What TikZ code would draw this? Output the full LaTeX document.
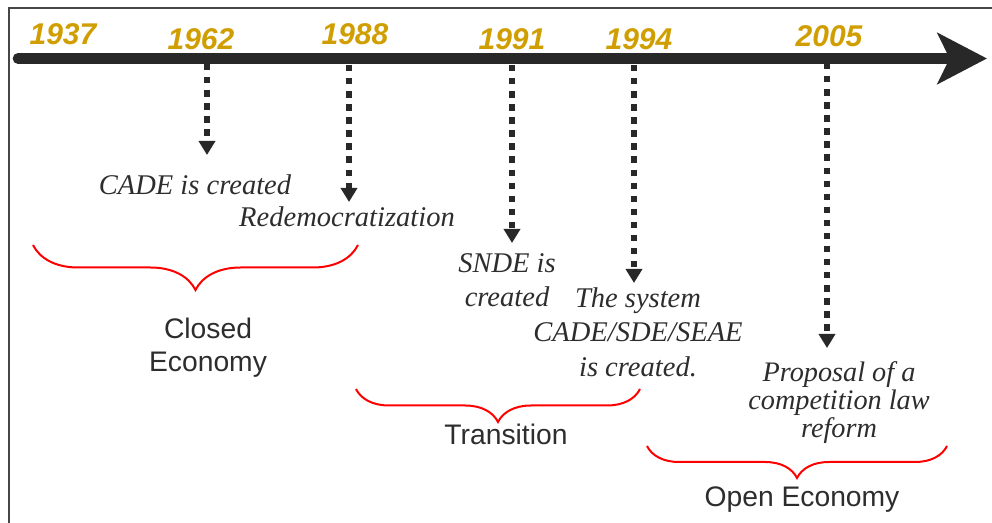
\documentclass[tikz,border=0pt]{standalone}
\usepackage{fontspec}
\setmainfont{Liberation Serif}
\setsansfont{Liberation Sans}
\usepackage{xcolor}
\usepackage{tikz}
\usetikzlibrary{arrows.meta,decorations.pathreplacing}

\definecolor{yeargold}{RGB}{208,158,0}
\definecolor{textgray}{RGB}{45,45,45}
\definecolor{bargray}{RGB}{40,40,40}
\definecolor{framegray}{RGB}{70,70,70}

\newcommand{\yearfont}{\sffamily\bfseries\itshape\fontsize{22.5}{27}\selectfont}
\newcommand{\eventfont}{\rmfamily\itshape\fontsize{21.4}{25.8}\selectfont}
\newcommand{\propfont}{\rmfamily\itshape\fontsize{21.2}{21}\selectfont}
\newcommand{\erafont}{\sffamily\fontsize{21.2}{24.8}\selectfont}

\begin{document}
\begin{tikzpicture}[
		x=0.75pt, y=-0.75pt,
		year/.style={font=\yearfont, text=yeargold, inner sep=0pt},
		event/.style={font=\eventfont, text=textgray, align=center, inner sep=0pt},
		era/.style={font=\erafont, text=textgray, align=center, inner sep=0pt},
		dotarr/.style={-{Triangle[width=12pt,length=10.5pt]}, draw=bargray,
			line width=4.8pt, dash pattern=on 4.8pt off 5pt},
		erabrace/.style={draw=red, line width=1.5pt, decorate,
			decoration={brace, mirror, amplitude=#1}}
		]
		\useasboundingbox (0,0) rectangle (992,523);
		% frame (top and left only)
		\draw[framegray, line width=1.5pt] (9,523) -- (9,8.5) -- (992,8.5);

		% time axis
		\coordinate (axisstart) at (18,58.5);
		\coordinate (axisend) at (987,58.5);
		\draw[bargray, line width=8pt, line cap=round,
			-{Stealth[length=37pt, width=38pt, inset=9pt]}] (axisstart) -- (axisend);

		% years
		\node[year] (y1937) at (63,34) {1937};
		\node[year] (y1962) at (201,39) {1962};
		\node[year] (y1988) at (355,34) {1988};
		\node[year] (y1991) at (512,39) {1991};
		\node[year] (y1994) at (639,39) {1994};
		\node[year] (y2005) at (829,36) {2005};

		% events
		\node[event] (cade) at (195,185) {CADE is created};
		\node[event] (redem) at (347,217) {Redemocratization};
		\node[event] (snde) at (507,280) {SNDE is\\created};
		\node[event] (system) at (638,332) {The system\\CADE/SDE/SEAE\\is created.};
		\node[event, font=\propfont] (reform) at (839,403)
		{Proposal of a\\competition law\\reform};

		% dotted arrows from the axis
		\coordinate (s1962) at (207,64);  \coordinate (e1962) at (207,155);
		\coordinate (s1988) at (349,65);  \coordinate (e1988) at (349,202);
		\coordinate (s1991) at (512,65);  \coordinate (e1991) at (512,243);
		\coordinate (s1994) at (634,65);  \coordinate (e1994) at (634,283);
		\coordinate (s2005) at (827,63);  \coordinate (e2005) at (827,348);
		\draw[dotarr] (s1962) -- (e1962);
		\draw[dotarr] (s1988) -- (e1988);
		\draw[dotarr] (s1991) -- (e1991);
		\draw[dotarr] (s1994) -- (e1994);
		\draw[dotarr] (s2005) -- (e2005);

		% periods
		\coordinate (cl) at (33,245);  \coordinate (cr) at (358,245);
		\coordinate (tl) at (356,389); \coordinate (tr) at (640,389);
		\coordinate (ol) at (647,446); \coordinate (or) at (947,446);
		\draw[erabrace=33.75pt] (cl) -- (cr);
		\draw[erabrace=24.75pt] (tl) -- (tr);
		\draw[erabrace=24pt] (ol) -- (or);
		\node[era] (closed) at (208,348) {Closed\\Economy};
		\node[era] (trans) at (506,434) {Transition};
		\node[era] (open) at (802,500) {Open Economy};
	\end{tikzpicture}
\end{document}
